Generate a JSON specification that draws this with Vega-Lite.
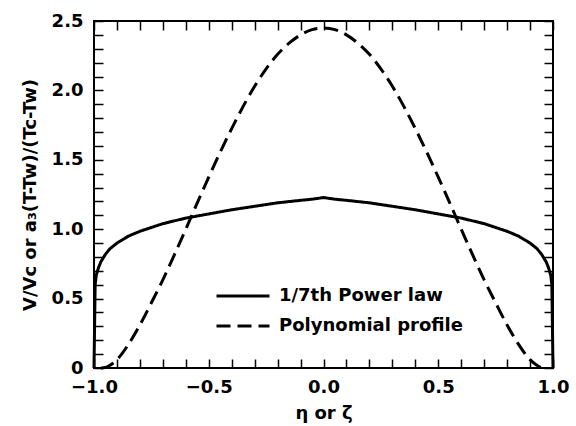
{
  "$schema": "https://vega.github.io/schema/vega-lite/v6.json",
  "width": 459,
  "height": 347,
  "autosize": "none",
  "padding": {"left": 94, "top": 21, "right": 23, "bottom": 58},
  "background": "white",
  "config": {
    "view": {"stroke": "black", "strokeWidth": 2},
    "font": "DejaVu Sans",
    "axis": {
      "domain": false,
      "grid": false,
      "tickColor": "black",
      "tickWidth": 1.5,
      "labelColor": "black",
      "labelFont": "DejaVu Sans",
      "labelFontSize": 18,
      "labelFontWeight": "bold",
      "labelFlush": false,
      "labelOverlap": false,
      "titleColor": "black",
      "titleFont": "DejaVu Sans",
      "titleFontSize": 18,
      "titleFontWeight": "bold"
    }
  },
  "data": {
    "values": [
      {"s": "1/7th Power law", "eta": -1.0, "v": 0},
      {"s": "1/7th Power law", "eta": -0.995, "v": 0.6},
      {"s": "1/7th Power law", "eta": -0.99, "v": 0.67},
      {"s": "1/7th Power law", "eta": -0.98, "v": 0.725},
      {"s": "1/7th Power law", "eta": -0.97, "v": 0.765},
      {"s": "1/7th Power law", "eta": -0.95, "v": 0.82},
      {"s": "1/7th Power law", "eta": -0.93, "v": 0.86},
      {"s": "1/7th Power law", "eta": -0.9, "v": 0.9},
      {"s": "1/7th Power law", "eta": -0.85, "v": 0.95},
      {"s": "1/7th Power law", "eta": -0.8, "v": 0.985},
      {"s": "1/7th Power law", "eta": -0.7, "v": 1.04},
      {"s": "1/7th Power law", "eta": -0.6, "v": 1.08},
      {"s": "1/7th Power law", "eta": -0.5, "v": 1.11},
      {"s": "1/7th Power law", "eta": -0.4, "v": 1.14},
      {"s": "1/7th Power law", "eta": -0.3, "v": 1.165},
      {"s": "1/7th Power law", "eta": -0.2, "v": 1.19},
      {"s": "1/7th Power law", "eta": -0.1, "v": 1.208},
      {"s": "1/7th Power law", "eta": -0.05, "v": 1.216},
      {"s": "1/7th Power law", "eta": 0, "v": 1.228},
      {"s": "1/7th Power law", "eta": 0.05, "v": 1.216},
      {"s": "1/7th Power law", "eta": 0.1, "v": 1.208},
      {"s": "1/7th Power law", "eta": 0.2, "v": 1.19},
      {"s": "1/7th Power law", "eta": 0.3, "v": 1.165},
      {"s": "1/7th Power law", "eta": 0.4, "v": 1.14},
      {"s": "1/7th Power law", "eta": 0.5, "v": 1.11},
      {"s": "1/7th Power law", "eta": 0.6, "v": 1.08},
      {"s": "1/7th Power law", "eta": 0.7, "v": 1.04},
      {"s": "1/7th Power law", "eta": 0.8, "v": 0.985},
      {"s": "1/7th Power law", "eta": 0.85, "v": 0.95},
      {"s": "1/7th Power law", "eta": 0.9, "v": 0.9},
      {"s": "1/7th Power law", "eta": 0.93, "v": 0.86},
      {"s": "1/7th Power law", "eta": 0.95, "v": 0.82},
      {"s": "1/7th Power law", "eta": 0.97, "v": 0.765},
      {"s": "1/7th Power law", "eta": 0.98, "v": 0.725},
      {"s": "1/7th Power law", "eta": 0.99, "v": 0.67},
      {"s": "1/7th Power law", "eta": 0.995, "v": 0.6},
      {"s": "1/7th Power law", "eta": 1.0, "v": 0},
      {"s": "Polynomial profile", "eta": -0.97, "v": 0},
      {"s": "Polynomial profile", "eta": -0.95, "v": 0.003},
      {"s": "Polynomial profile", "eta": -0.925, "v": 0.025},
      {"s": "Polynomial profile", "eta": -0.9, "v": 0.06},
      {"s": "Polynomial profile", "eta": -0.85, "v": 0.17},
      {"s": "Polynomial profile", "eta": -0.8, "v": 0.31},
      {"s": "Polynomial profile", "eta": -0.75, "v": 0.47},
      {"s": "Polynomial profile", "eta": -0.7, "v": 0.635},
      {"s": "Polynomial profile", "eta": -0.65, "v": 0.815},
      {"s": "Polynomial profile", "eta": -0.6, "v": 1.0},
      {"s": "Polynomial profile", "eta": -0.55, "v": 1.19},
      {"s": "Polynomial profile", "eta": -0.5, "v": 1.375},
      {"s": "Polynomial profile", "eta": -0.45, "v": 1.555},
      {"s": "Polynomial profile", "eta": -0.4, "v": 1.725},
      {"s": "Polynomial profile", "eta": -0.35, "v": 1.885},
      {"s": "Polynomial profile", "eta": -0.3, "v": 2.03},
      {"s": "Polynomial profile", "eta": -0.25, "v": 2.155},
      {"s": "Polynomial profile", "eta": -0.2, "v": 2.26},
      {"s": "Polynomial profile", "eta": -0.15, "v": 2.34},
      {"s": "Polynomial profile", "eta": -0.1, "v": 2.4},
      {"s": "Polynomial profile", "eta": -0.05, "v": 2.438},
      {"s": "Polynomial profile", "eta": 0, "v": 2.45},
      {"s": "Polynomial profile", "eta": 0.05, "v": 2.438},
      {"s": "Polynomial profile", "eta": 0.1, "v": 2.4},
      {"s": "Polynomial profile", "eta": 0.15, "v": 2.34},
      {"s": "Polynomial profile", "eta": 0.2, "v": 2.26},
      {"s": "Polynomial profile", "eta": 0.25, "v": 2.155},
      {"s": "Polynomial profile", "eta": 0.3, "v": 2.03},
      {"s": "Polynomial profile", "eta": 0.35, "v": 1.885},
      {"s": "Polynomial profile", "eta": 0.4, "v": 1.725},
      {"s": "Polynomial profile", "eta": 0.45, "v": 1.555},
      {"s": "Polynomial profile", "eta": 0.5, "v": 1.375},
      {"s": "Polynomial profile", "eta": 0.55, "v": 1.19},
      {"s": "Polynomial profile", "eta": 0.6, "v": 1.0},
      {"s": "Polynomial profile", "eta": 0.65, "v": 0.815},
      {"s": "Polynomial profile", "eta": 0.7, "v": 0.635},
      {"s": "Polynomial profile", "eta": 0.75, "v": 0.47},
      {"s": "Polynomial profile", "eta": 0.8, "v": 0.31},
      {"s": "Polynomial profile", "eta": 0.85, "v": 0.17},
      {"s": "Polynomial profile", "eta": 0.9, "v": 0.06},
      {"s": "Polynomial profile", "eta": 0.925, "v": 0.025},
      {"s": "Polynomial profile", "eta": 0.95, "v": 0.003},
      {"s": "Polynomial profile", "eta": 0.97, "v": 0}
    ]
  },
  "layer": [
    {
      "transform": [{"filter": "datum.s == '1/7th Power law'"}],
      "mark": {"type": "line", "color": "black", "strokeWidth": 3, "interpolate": "linear", "strokeCap": "butt", "strokeJoin": "round"},
      "encoding": {
        "x": {
          "field": "eta", "type": "quantitative",
          "scale": {"domain": [-1, 1], "nice": false, "zero": false},
          "axis": {
            "orient": "bottom",
            "values": [-1, -0.9, -0.8, -0.7, -0.6, -0.5, -0.4, -0.3, -0.2, -0.1, 0, 0.1, 0.2, 0.3, 0.4, 0.5, 0.6, 0.7, 0.8, 0.9, 1],
            "labelExpr": "abs(datum.value*2 - round(datum.value*2)) < 0.001 ? format(datum.value, '.1f') : ''",
            "tickSize": -9,
            "labelPadding": 19,
            "title": "η or ζ",
            "titlePadding": 8,
            "encode": {"ticks": {"update": {"y2": {"signal": "abs(datum.value*2 - round(datum.value*2)) < 0.001 ? -15 : -9"}}}}
          }
        },
        "y": {
          "field": "v", "type": "quantitative",
          "scale": {"domain": [0, 2.5], "nice": false},
          "axis": {
            "orient": "left",
            "values": [0, 0.1, 0.2, 0.3, 0.4, 0.5, 0.6, 0.7, 0.8, 0.9, 1, 1.1, 1.2, 1.3, 1.4, 1.5, 1.6, 1.7, 1.8, 1.9, 2, 2.1, 2.2, 2.3, 2.4, 2.5],
            "labelExpr": "abs(datum.value*2 - round(datum.value*2)) < 0.001 ? (datum.value == 0 ? '0' : format(datum.value, '.1f')) : ''",
            "tickSize": -9,
            "labelPadding": 20,
            "title": "V/Vc or a₃(T-Tw)/(Tc-Tw)",
            "titlePadding": 12,
            "encode": {"ticks": {"update": {"x2": {"signal": "abs(datum.value*2 - round(datum.value*2)) < 0.001 ? 15 : 9"}}}}
          }
        },
        "strokeDash": {
          "field": "s", "type": "nominal",
          "scale": {"domain": ["1/7th Power law", "Polynomial profile"], "range": [[1, 0], [14, 7]]},
          "legend": {
            "orient": "none", "legendX": 121, "legendY": 260, "title": null,
            "symbolType": "stroke", "symbolSize": 2809, "symbolStrokeWidth": 3, "symbolStrokeColor": "black",
            "labelFont": "DejaVu Sans", "labelFontSize": 18, "labelFontWeight": "bold", "labelColor": "black",
            "clipHeight": 30, "rowPadding": 0, "padding": 0, "labelOffset": 8, "labelLimit": 0
          }
        }
      }
    },
    {
      "transform": [{"filter": "datum.s == 'Polynomial profile'"}],
      "mark": {"type": "line", "color": "black", "strokeWidth": 3, "interpolate": "monotone", "strokeCap": "butt"},
      "encoding": {
        "x": {
          "field": "eta", "type": "quantitative",
          "scale": {"domain": [-1, 1], "nice": false, "zero": false},
          "axis": {
            "orient": "top",
            "values": [-1, -0.9, -0.8, -0.7, -0.6, -0.5, -0.4, -0.3, -0.2, -0.1, 0, 0.1, 0.2, 0.3, 0.4, 0.5, 0.6, 0.7, 0.8, 0.9, 1],
            "labels": false,
            "tickSize": -9,
            "title": null,
            "encode": {"ticks": {"update": {"y2": {"signal": "abs(datum.value*2 - round(datum.value*2)) < 0.001 ? 13 : 9"}}}}
          }
        },
        "y": {
          "field": "v", "type": "quantitative",
          "scale": {"domain": [0, 2.5], "nice": false},
          "axis": {
            "orient": "right",
            "values": [0, 0.1, 0.2, 0.3, 0.4, 0.5, 0.6, 0.7, 0.8, 0.9, 1, 1.1, 1.2, 1.3, 1.4, 1.5, 1.6, 1.7, 1.8, 1.9, 2, 2.1, 2.2, 2.3, 2.4, 2.5],
            "labels": false,
            "tickSize": -9,
            "title": null,
            "encode": {"ticks": {"update": {"x2": {"signal": "abs(datum.value*2 - round(datum.value*2)) < 0.001 ? -13 : -9"}}}}
          }
        },
        "strokeDash": {
          "field": "s", "type": "nominal",
          "scale": {"domain": ["1/7th Power law", "Polynomial profile"], "range": [[1, 0], [14, 7]]},
          "legend": {
            "orient": "none", "legendX": 121, "legendY": 260, "title": null,
            "symbolType": "stroke", "symbolSize": 2809, "symbolStrokeWidth": 3, "symbolStrokeColor": "black",
            "labelFont": "DejaVu Sans", "labelFontSize": 18, "labelFontWeight": "bold", "labelColor": "black",
            "clipHeight": 30, "rowPadding": 0, "padding": 0, "labelOffset": 8, "labelLimit": 0
          }
        }
      }
    }
  ],
  "resolve": {"axis": {"x": "independent", "y": "independent"}}
}
